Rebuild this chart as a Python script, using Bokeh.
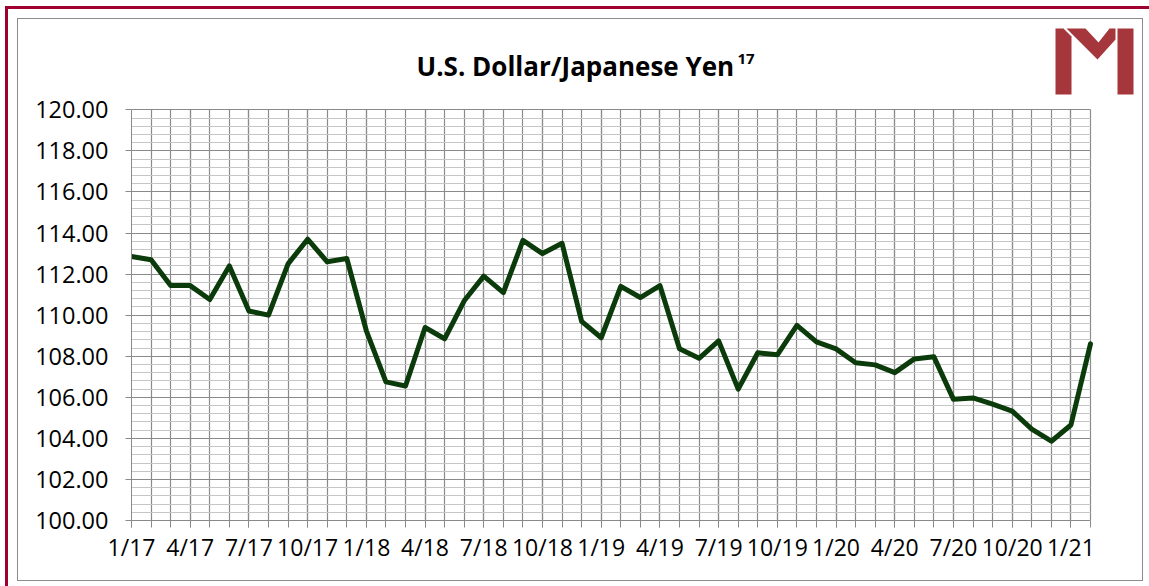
from bokeh.plotting import figure
from bokeh.models import Range1d, FixedTicker, Label, PolyAnnotation, PrintfTickFormatter
from bokeh.layouts import column
from bokeh.embed import file_html
from bokeh.resources import INLINE

# ---- data -------------------------------------------------------------
months = [
    "1/17", "2/17", "3/17", "4/17", "5/17", "6/17", "7/17", "8/17", "9/17", "10/17", "11/17", "12/17",
    "1/18", "2/18", "3/18", "4/18", "5/18", "6/18", "7/18", "8/18", "9/18", "10/18", "11/18", "12/18",
    "1/19", "2/19", "3/19", "4/19", "5/19", "6/19", "7/19", "8/19", "9/19", "10/19", "11/19", "12/19",
    "1/20", "2/20", "3/20", "4/20", "5/20", "6/20", "7/20", "8/20", "9/20", "10/20", "11/20", "12/20",
    "1/21", "2/21",
]
usd_jpy = [
    112.86, 112.70, 111.44, 111.44, 110.76, 112.40, 110.20, 110.00, 112.50, 113.70, 112.60, 112.76,
    109.24, 106.75, 106.55, 109.40, 108.85, 110.70, 111.90, 111.10, 113.64, 113.00, 113.50, 109.70,
    108.90, 111.40, 110.86, 111.44, 108.36, 107.90, 108.75, 106.40, 108.17, 108.07, 109.50, 108.70,
    108.36, 107.68, 107.58, 107.20, 107.87, 107.97, 105.90, 105.97, 105.67, 105.33, 104.45, 103.86,
    104.65, 108.60,
]
y_ticks = [100, 102, 104, 106, 108, 110, 112, 114, 116, 118, 120]
title_text = "U.S. Dollar/Japanese Yen"
title_sup = "17"

# ---- derived ----------------------------------------------------------
x_idx = list(range(len(months)))
label_idx = x_idx[::3]
y_minor = [round(y_ticks[0] + 0.4 * i, 1) for i in range(int((y_ticks[-1] - y_ticks[0]) / 0.4) + 1)]
x_lo, x_hi = x_idx[0], x_idx[-1]
y_lo, y_hi = y_ticks[0], y_ticks[-1]

GRID_DARK = "#8a8a8a"
GRID_LIGHT = "#c6c6c6"
FONT = "Open Sans"

# frame extends above/right of the plotted area so that title and logo sit inside it
p = figure(
    width=1126, height=563,
    x_range=Range1d(x_lo, 51.76), y_range=Range1d(y_lo, 124.40),
    output_backend="svg", toolbar_location=None,
    min_border_left=113, min_border_right=0, min_border_top=0, min_border_bottom=62,
    background_fill_color="white", border_fill_color="white", outline_line_color=None,
)
p.styles = {"border": "1px solid #8c8c8c"}

# x axis
xa = p.xaxis[0]
xa.bounds = (x_lo, x_hi)
xa.ticker = FixedTicker(ticks=label_idx, minor_ticks=x_idx)
xa.major_label_overrides = {i: months[i] for i in label_idx}
xa.axis_line_color = GRID_DARK
xa.major_tick_line_color = GRID_DARK
xa.minor_tick_line_color = GRID_DARK
xa.major_tick_in = 0
xa.major_tick_out = 7
xa.minor_tick_in = 0
xa.minor_tick_out = 7
xa.major_label_text_font = FONT
xa.major_label_text_font_size = "23px"
xa.major_label_text_color = "#000000"
xa.major_label_standoff = 3

# y axis
ya = p.yaxis[0]
ya.bounds = (y_lo, y_hi)
ya.ticker = FixedTicker(ticks=y_ticks, minor_ticks=y_minor)
ya.formatter = PrintfTickFormatter(format="%.2f")
ya.axis_line_color = GRID_DARK
ya.major_tick_line_color = GRID_DARK
ya.minor_tick_line_color = None
ya.major_tick_in = 0
ya.major_tick_out = 6
ya.major_label_text_font = FONT
ya.major_label_text_font_size = "23.5px"
ya.major_label_text_color = "#000000"
ya.major_label_standoff = 17

# grids
p.xgrid.grid_line_color = GRID_DARK
p.xgrid.minor_grid_line_color = GRID_DARK
p.xgrid.grid_line_width = 1.2
p.xgrid.minor_grid_line_width = 1.2
p.ygrid.grid_line_color = GRID_DARK
p.ygrid.minor_grid_line_color = GRID_LIGHT
p.ygrid.grid_line_width = 1.2
p.ygrid.minor_grid_line_width = 1.2
p.xgrid.bounds = (x_lo, x_hi)
p.ygrid.bounds = (y_lo, y_hi)
try:
    p.xgrid.cross_bounds = (y_lo, y_hi)
    p.ygrid.cross_bounds = (x_lo, x_hi)
except AttributeError:
    pass

# series
p.line(x_idx, usd_jpy, line_width=5, line_color="#0b3b0b", line_join="round", line_cap="round")

# title (screen units relative to the plot frame)
p.add_layout(Label(x=285, y=455, x_units="screen", y_units="screen", text=title_text,
                   text_font=FONT, text_font_style="bold", text_font_size="26px",
                   text_color="#000000", text_align="left", text_baseline="alphabetic"))
p.add_layout(Label(x=606, y=462, x_units="screen", y_units="screen", text=title_sup,
                   text_font=FONT, text_font_style="bold", text_font_size="15px",
                   text_color="#000000", text_align="left", text_baseline="alphabetic"))

# logo (decoration), screen units relative to frame
LOGO = "#a5363b"
def page_pts(pts):
    return [x - 131 for x, _ in pts], [519 - y for _, y in pts]

for shape in (
    [(1055, 27), (1063, 27), (1071, 35), (1071, 93), (1055, 93)],
    [(1066, 27), (1085, 27), (1098, 41), (1109, 27), (1115, 27), (1115, 38), (1097, 58)],
    [(1117, 27), (1133, 27), (1133, 93), (1117, 93)],
):
    xs, ys = page_pts(shape)
    p.add_layout(PolyAnnotation(xs=xs, ys=ys, xs_units="screen", ys_units="screen",
                                fill_color=LOGO, fill_alpha=1.0, line_color=None))

layout = column(p, styles={
    "margin-left": "5px",
    "margin-top": "6px",
    "border-top": "3px solid #a0002f",
    "border-left": "3px solid #a0002f",
    "padding-top": "9px",
    "padding-left": "9px",
    "padding-right": "6px",
    "padding-bottom": "5px",
})

open("out.html", "w").write(file_html(layout, INLINE))
